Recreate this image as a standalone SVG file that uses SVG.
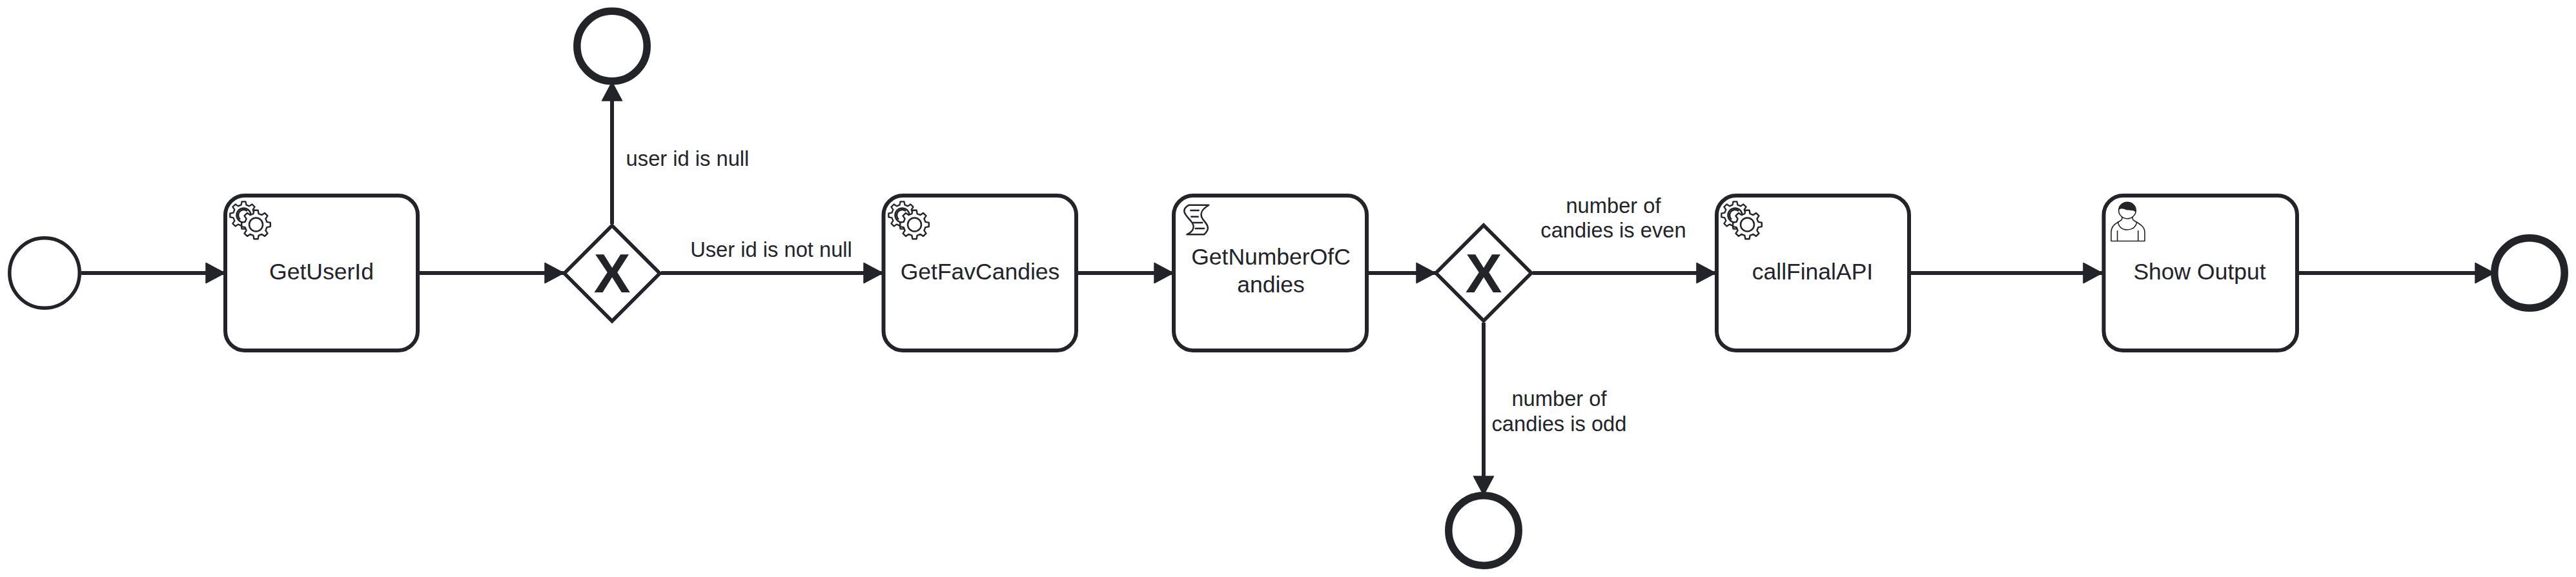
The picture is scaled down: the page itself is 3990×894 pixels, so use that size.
<svg xmlns="http://www.w3.org/2000/svg" xmlns:xlink="http://www.w3.org/1999/xlink" width="3990" height="894" viewBox="0 0 3990 894">
<style>
.bg{fill:#ffffff}
.conn{fill:none;stroke:#22242a;stroke-width:6;marker-end:url(#arrow)}
.task{fill:#ffffff;stroke:#22242a;stroke-width:6}
.start{fill:#ffffff;stroke:#22242a;stroke-width:5.5}
.end{fill:#ffffff;stroke:#22242a;stroke-width:11.5}
.gw{fill:#ffffff;stroke:#22242a;stroke-width:5.5;stroke-linejoin:miter}
.ic{fill:#ffffff;stroke:#22242a;stroke-width:2.5;stroke-linejoin:round}
.ln{fill:none;stroke:#22242a;stroke-width:2.5}
.thin{fill:#ffffff;stroke:#22242a;stroke-width:1.6;stroke-linejoin:round}
.thinl{fill:none;stroke:#22242a;stroke-width:1.6}
text{font-family:"Liberation Sans",Arial,sans-serif;fill:#22242a;text-anchor:middle}
.t{font-size:35.5px}
.l{font-size:32.7px}
.x{font-size:85px;font-weight:bold}
</style>
<defs>
<marker id="arrow" markerUnits="userSpaceOnUse" markerWidth="34" markerHeight="36" refX="30" refY="17" orient="auto">
<path d="M1,1.5 L30,17 L1,32.5 Z" fill="#22242a" stroke="#22242a" stroke-width="1.5" stroke-linejoin="round"/>
</marker>
<path id="gear" d="M-4.2,-17.5 L-3.2,-23 L3.2,-23 L4.2,-17.5 L9.4,-15.34 L14,-18.53 L18.53,-14 L15.34,-9.4 L17.5,-4.2 L23,-3.2 L23,3.2 L17.5,4.2 L15.34,9.4 L18.53,14 L14,18.53 L9.4,15.34 L4.2,17.5 L3.2,23 L-3.2,23 L-4.2,17.5 L-9.4,15.34 L-14,18.53 L-18.53,14 L-15.34,9.4 L-17.5,4.2 L-23,3.2 L-23,-3.2 L-17.5,-4.2 L-15.34,-9.4 L-18.53,-14 L-14,-18.53 L-9.4,-15.34 Z"/>
<g id="service">
<use xlink:href="#gear" href="#gear" class="ic" transform="translate(31.5,33.5) scale(.92)"/>
<circle class="ic" cx="31.5" cy="33.5" r="11"/>
<path class="ln" d="M26,40 A7,7 0 0 1 37,27"/>
<use xlink:href="#gear" href="#gear" class="ic" transform="translate(50.5,48) scale(.97)"/>
<circle class="ic" cx="50.5" cy="48" r="10.5"/>
</g>
</defs>
<rect class="bg" x="0" y="0" width="3990" height="894"/>
<g id="connectors">
<path class="conn" d="M126,423 H348"/>
<path class="conn" d="M650,423 H873"/>
<path class="conn" d="M948,347 V127"/>
<path class="conn" d="M1024,423 H1367"/>
<path class="conn" d="M1670,423 H1817"/>
<path class="conn" d="M2120,423 H2223"/>
<path class="conn" d="M2374,423 H2657"/>
<path class="conn" d="M2298,500 V767"/>
<path class="conn" d="M2960,423 H3256"/>
<path class="conn" d="M3561,423 H3863"/>
</g>
<g id="startEvent"><circle class="start" cx="69" cy="423" r="54.2"/></g>
<g id="task_GetUserId">
<rect class="task" x="349" y="303" width="298" height="240" rx="30"/>
<use xlink:href="#service" href="#service" transform="translate(346,300)"/>
<text class="t" x="498" y="433">GetUserId</text>
</g>
<g id="gateway1">
<path class="gw" d="M948,349.5 L1022,423.5 L948,497.5 L874,423.5 Z"/>
<text class="x" x="948" y="453">X</text>
</g>
<g id="endEvent_null"><circle class="end" cx="948" cy="71.5" r="54.2"/></g>
<g id="task_GetFavCandies">
<rect class="task" x="1368.5" y="303" width="298.5" height="240" rx="30"/>
<use xlink:href="#service" href="#service" transform="translate(1366,300)"/>
<text class="t" x="1518" y="433">GetFavCandies</text>
</g>
<g id="task_GetNumberOfCandies">
<rect class="task" x="1818" y="303" width="299" height="240" rx="30"/>
<path class="ic" d="M1841.7,317.7 H1872.3 C1862,324 1858,330 1862,338 C1866,345 1878,352 1865,363.3 H1838.3 C1850,358 1851,350 1845,343 C1839,335 1826,326 1841.7,317.7 Z"/>
<path class="ln" d="M1843.3,326 H1857.7 M1844.3,335.7 H1856.7 M1847.3,345 H1863.3 M1850.7,354 H1866"/>
<text class="t" x="1968.5" y="410">GetNumberOfC</text>
<text class="t" x="1968.5" y="453">andies</text>
</g>
<g id="gateway2">
<path class="gw" d="M2298,349 L2372,423 L2298,497 L2224,423 Z"/>
<text class="x" x="2298" y="453">X</text>
</g>
<g id="endEvent_odd"><circle class="end" cx="2298" cy="822" r="54.2"/></g>
<g id="task_callFinalAPI">
<rect class="task" x="2659" y="303" width="298" height="240" rx="30"/>
<use xlink:href="#service" href="#service" transform="translate(2656,300)"/>
<text class="t" x="2807.5" y="433">callFinalAPI</text>
</g>
<g id="task_ShowOutput">
<rect class="task" x="3258.5" y="303" width="299.5" height="240" rx="30"/>
<path class="thin" d="M3286.6,336 C3288,341 3284,342 3281,344 C3274,348 3270,352 3270,360 V373.5 H3322 V360 C3322,352 3316,348 3309,344 C3306,342 3302,341 3303.3,336 Z"/>
<ellipse class="thin" cx="3295" cy="326" rx="13.3" ry="12.7"/>
<path d="M3281.7,326 C3281.7,318 3288,313.3 3295,313.3 C3302,313.3 3308.3,318 3308.3,329 C3304,324 3298,327 3293,325 C3288,323 3284,322 3281.7,326 Z" fill="#22242a"/>
<path class="thinl" d="M3280.6,343.3 C3281,351 3287,356 3295,356 C3303,356 3309,351 3309.8,343.3 M3279.6,357.3 V373 M3311.8,357.3 V373"/>
<text class="t" x="3407" y="433">Show Output</text>
</g>
<g id="endEvent_main"><circle class="end" cx="3918" cy="423" r="54.2"/></g>
<g id="labels">
<text class="l" x="1065" y="257">user id is null</text>
<text class="l" x="1194.5" y="398">User id is not null</text>
<text class="l" x="2499" y="330">number of</text>
<text class="l" x="2499" y="368">candies is even</text>
<text class="l" x="2415" y="629">number of</text>
<text class="l" x="2415" y="668">candies is odd</text>
</g>
</svg>
